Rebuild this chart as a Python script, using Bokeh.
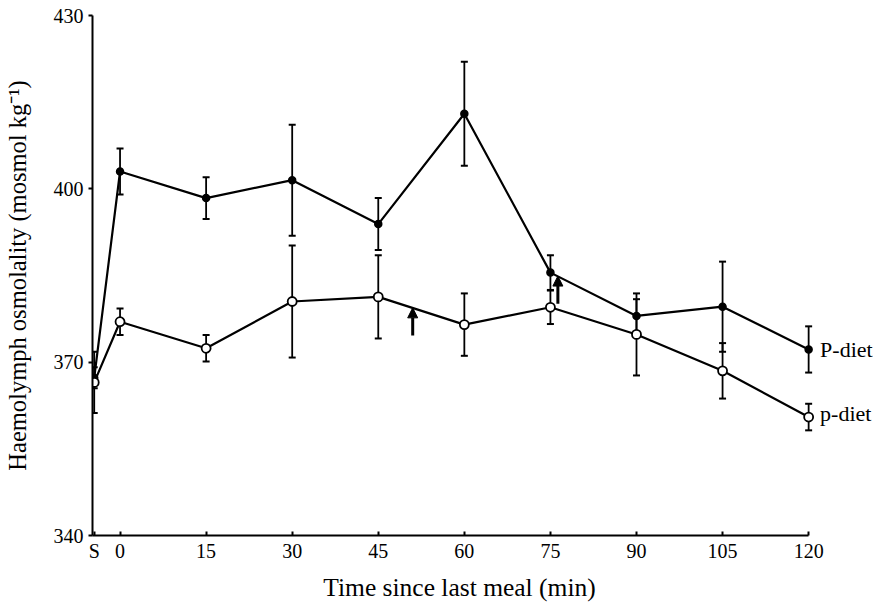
from bokeh.plotting import figure
from bokeh.models import Range1d, FixedTicker, Arrow, NormalHead
from bokeh.core.properties import value
from bokeh.embed import file_html
from bokeh.resources import INLINE

# ---- data ----
times = [-4.5, 0, 15, 30, 45, 60, 75, 90, 105, 120]
tick_values = [-4.5, 0, 15, 30, 45, 60, 75, 90, 105, 120]
tick_labels = ["S", "0", "15", "30", "45", "60", "75", "90", "105", "120"]
y_ticks = [340, 370, 400, 430]

P_diet = [367.3, 403.0, 398.4, 401.5, 393.9, 413.0, 385.5, 378.0, 379.6, 372.2]
P_err = [1.8, 4.0, 3.6, 9.6, 4.5, 9.0, 3.0, 2.9, 7.8, 4.0]

p_diet = [366.5, 377.0, 372.4, 380.5, 381.3, 376.5, 379.5, 374.8, 368.5, 360.5]
p_err = [5.3, 2.3, 2.3, 9.7, 7.2, 5.4, 2.9, 7.1, 4.8, 2.3]

series_names = ["P-diet", "p-diet"]
label_x = 122.0

arrow_x = [51.0, 76.3]
arrow_y0 = [374.6, 380.1]
arrow_y1 = [379.4, 384.9]

FONT = "Liberation Serif"

p = figure(width=877, height=604, output_backend="svg", toolbar_location=None,
           x_range=Range1d(-4.8, 132), y_range=Range1d(340, 430),
           min_border_left=92, min_border_right=0, min_border_top=15, min_border_bottom=62)
p.outline_line_color = None
p.xgrid.visible = False
p.ygrid.visible = False
p.background_fill_color = "white"

# axes
p.xaxis.ticker = FixedTicker(ticks=tick_values)
p.xaxis.major_label_overrides = {v: s for v, s in zip(tick_values, tick_labels)}
p.xaxis.bounds = (-4.8, 120)
p.yaxis.ticker = FixedTicker(ticks=y_ticks)
for ax in (p.xaxis[0], p.yaxis[0]):
    ax.axis_line_width = 2
    ax.axis_line_color = "black"
    ax.major_tick_line_width = 2
    ax.major_tick_line_color = "black"
    ax.minor_tick_line_color = None
    ax.major_label_text_font = FONT
    ax.major_label_text_font_size = "20px"
    ax.major_label_text_color = "black"
    ax.axis_label_text_font = FONT
    ax.axis_label_text_font_style = "normal"
    ax.axis_label_text_color = "black"
p.xaxis.axis_label_text_font_size = "25.5px"
p.yaxis.axis_label_text_font_size = "24.5px"
p.xaxis.major_tick_in = 4
p.xaxis.major_tick_out = 0
p.yaxis.major_tick_in = 0
p.yaxis.major_tick_out = 4
p.xaxis.major_label_standoff = 4
p.yaxis.major_label_standoff = 5
p.xaxis.axis_label = "Time since last meal (min)" + "\u00a0" * 8
p.yaxis.axis_label = "Haemolymph osmolality (mosmol kg\u207b\u00b9)"
p.xaxis.axis_label_standoff = 8
p.yaxis.axis_label_standoff = 20

# series
for vals, errs in ((P_diet, P_err), (p_diet, p_err)):
    p.line(times, vals, line_color="black", line_width=2.2)
    lo = [v - e for v, e in zip(vals, errs)]
    hi = [v + e for v, e in zip(vals, errs)]
    p.segment(x0=times, y0=lo, x1=times, y1=hi, line_color="black", line_width=1.8)
    p.scatter(times, lo, marker="dash", size=7, line_color="black", line_width=2)
    p.scatter(times, hi, marker="dash", size=7, line_color="black", line_width=2)

p.scatter(times, P_diet, marker="circle", size=7, fill_color="black", line_color="black", line_width=1.5)
p.scatter(times, p_diet, marker="circle", size=9, fill_color="white", line_color="black", line_width=1.8)

for ax_, y0, y1 in zip(arrow_x, arrow_y0, arrow_y1):
    p.add_layout(Arrow(end=NormalHead(size=10, fill_color="black", line_color="black", line_width=1),
                       x_start=ax_, y_start=y0, x_end=ax_, y_end=y1,
                       line_color="black", line_width=3))

p.text(x=[label_x, label_x], y=[P_diet[-1], p_diet[-1] + 0.6], text=series_names,
       text_baseline="middle", text_align="left", text_font=value(FONT),
       text_font_size="22px", text_color="black")

open("out.html", "w").write(file_html(p, INLINE))
